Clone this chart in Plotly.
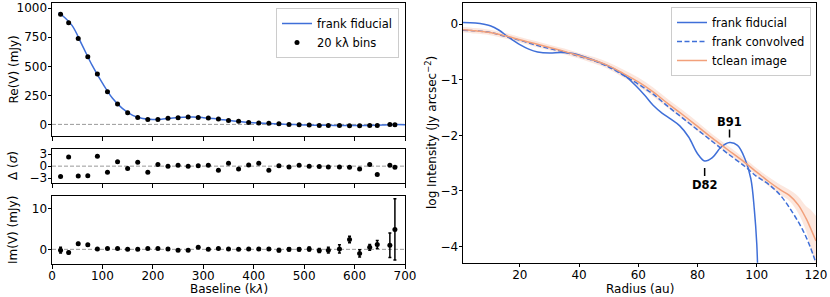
import plotly.graph_objects as go

# ---------------- data: left panels ----------------
baseline = [17, 33, 52, 71, 90, 110, 130, 150, 170, 190, 210, 230, 250, 270, 290, 310, 330, 350,
            370, 390, 410, 430, 450, 470, 490, 510, 530, 548, 570, 590, 610, 630, 645, 670, 680]
re_v = [948, 874, 739, 582, 433, 281, 175, 100, 60, 43, 43, 52, 57, 63, 60, 54, 46, 34,
        26, 17, 11, 9, 6, 0, -3, -6, -9, -9, -9, -11, -11, -9, -9, 0, -3]
re_err = [4] * 35
resid = [-2.6, 2.3, -2.5, -2.4, 2.5, -1.5, 1.1, -0.6, 1.0, -1.5, 0.4, 0.0, 0.2, 0.0, 0.1, 0.2, -1.0, 0.7,
         -0.7, 0.3, 0.7, -1.0, 0.1, -0.2, 0.2, 0.0, -0.1, -0.2, -0.2, -0.3, -0.7, 0.4, -2.1, 0.2, -0.3]
im_v = [-0.2, -0.8, 1.4, 1.1, 0.1, 0.2, 0.2, 0.0, 0.0, 0.2, 0.2, 0.1, -0.2, -0.2, 0.5, 0.0, 0.2, 0.1,
        0.0, 0.1, 0.1, 0.1, -0.2, 0.0, 0.0, 0.1, -0.3, -0.2, 0.1, 2.4, -1.0, 0.5, 1.2, 1.0, 4.9]
im_err = [0.7, 0.3, 0.3, 0.3, 0.2, 0.2, 0.2, 0.2, 0.2, 0.2, 0.2, 0.2, 0.2, 0.2, 0.2, 0.2, 0.2, 0.2,
          0.2, 0.2, 0.3, 0.3, 0.4, 0.4, 0.4, 0.5, 0.5, 0.7, 1.0, 0.8, 0.9, 0.7, 1.0, 3.0, 7.5]

fid_uv_x = [13, 20, 40, 60, 80, 100, 120, 140, 160, 180, 200, 220, 240, 260, 280, 300, 320, 340,
            360, 380, 400, 420, 440, 460, 480, 500, 520, 540, 560, 580, 600, 620, 640, 660, 680, 700]
fid_uv_y = [962, 940, 850, 680, 505, 355, 225, 135, 78, 50, 42, 46, 55, 61, 63, 58, 50, 40,
            30, 21, 14, 9, 6, 2, -2, -5, -7, -8, -9, -10, -10, -9, -8, -5, -2, -3]

# ---------------- data: right panel ----------------
fid_r = [0.8, 5, 10, 13, 16, 18, 20, 23, 26, 30, 34, 38, 42, 47, 52, 56, 59, 62, 65, 68, 71, 74,
         77, 80, 82.4, 85, 88, 90.8, 93.5, 96, 98, 99.2, 100, 100.3]
fid_I = [0.03, 0.02, -0.03, -0.11, -0.23, -0.30, -0.37, -0.45, -0.50, -0.52, -0.51, -0.53, -0.59,
         -0.69, -0.81, -0.95, -1.10, -1.27, -1.46, -1.60, -1.71, -1.83, -2.03, -2.33, -2.46, -2.40,
         -2.21, -2.13, -2.18, -2.42, -2.78, -3.35, -3.95, -4.4]
conv_r = [0.8, 5, 10, 15, 20, 25, 30, 35, 40, 45, 50, 55, 60, 65, 70, 75, 80, 85, 90, 96, 100,
          104, 108, 112, 115.5, 118, 120]
conv_I = [-0.11, -0.12, -0.15, -0.22, -0.29, -0.37, -0.44, -0.50, -0.58, -0.66, -0.77, -0.92,
          -1.08, -1.26, -1.48, -1.69, -1.90, -2.11, -2.32, -2.56, -2.74, -2.88, -3.08, -3.38,
          -3.70, -4.00, -4.30]
tc_r = [0.8, 5, 10, 15, 20, 25, 30, 35, 40, 45, 50, 55, 60, 65, 70, 75, 80, 85, 90, 96, 100,
        104, 108, 111, 114, 116.6, 118, 120]
tc_I = [-0.10, -0.12, -0.15, -0.21, -0.28, -0.35, -0.42, -0.49, -0.57, -0.65, -0.75, -0.89,
        -1.04, -1.22, -1.43, -1.63, -1.84, -2.05, -2.25, -2.49, -2.66, -2.83, -2.98, -3.08,
        -3.25, -3.49, -3.65, -3.90]
tc_err = [0.05, 0.05, 0.05, 0.05, 0.05, 0.05, 0.05, 0.05, 0.05, 0.06, 0.06, 0.07, 0.08, 0.08,
          0.08, 0.08, 0.08, 0.07, 0.07, 0.07, 0.07, 0.08, 0.09, 0.10, 0.15, 0.22, 0.32, 0.45]

feat_name = ["D82", "B91"]
feat_r = [82.4, 90.8]
feat_I = [-2.46, -2.13]

# ---------------- styling ----------------
BLUE = "#3f6fd8"
ORANGE = "#f2a07b"
BAND = "rgba(244,160,122,0.25)"
FONT = "DejaVu Sans"
W, H = 830, 297

def px_x(p):
    return p / W

def px_y(p):
    return 1 - p / H

fig = go.Figure()

# left top
fig.add_trace(go.Scatter(x=fid_uv_x, y=fid_uv_y, mode="lines", line=dict(color=BLUE, width=1.5, shape="spline"),
                         name="frank fiducial", xaxis="x", yaxis="y", legend="legend"))
fig.add_trace(go.Scatter(x=baseline, y=re_v, mode="markers", marker=dict(color="black", size=5),
                         error_y=dict(type="data", array=re_err, color="black", thickness=1.5, width=1.5),
                         name="20 k\u03bb bins", xaxis="x", yaxis="y", legend="legend"))
# residuals
fig.add_trace(go.Scatter(x=baseline, y=resid, mode="markers", marker=dict(color="black", size=5),
                         showlegend=False, xaxis="x2", yaxis="y2"))
# imaginary
fig.add_trace(go.Scatter(x=baseline, y=im_v, mode="markers", marker=dict(color="black", size=5),
                         error_y=dict(type="data", array=im_err, color="black", thickness=1.5, width=1.5),
                         showlegend=False, xaxis="x3", yaxis="y3"))

# right panel band
tc_hi = [v + e for v, e in zip(tc_I, tc_err)]
tc_lo = [v - e for v, e in zip(tc_I, tc_err)]
fig.add_trace(go.Scatter(x=tc_r, y=tc_hi, mode="lines", line=dict(width=0, shape="spline"), showlegend=False,
                         hoverinfo="skip", xaxis="x4", yaxis="y4"))
fig.add_trace(go.Scatter(x=tc_r, y=tc_lo, mode="lines", line=dict(width=0, shape="spline"), fill="tonexty",
                         fillcolor=BAND, showlegend=False, hoverinfo="skip", xaxis="x4", yaxis="y4"))
fig.add_trace(go.Scatter(x=fid_r, y=fid_I, mode="lines", line=dict(color=BLUE, width=1.5, shape="spline"),
                         name="frank fiducial", xaxis="x4", yaxis="y4", legend="legend2"))
fig.add_trace(go.Scatter(x=conv_r, y=conv_I, mode="lines",
                         line=dict(color=BLUE, width=1.5, dash="5px,2.5px", shape="spline"),
                         name="frank convolved", xaxis="x4", yaxis="y4", legend="legend2"))
fig.add_trace(go.Scatter(x=tc_r, y=tc_I, mode="lines", line=dict(color=ORANGE, width=1.5, shape="spline"),
                         name="tclean image", xaxis="x4", yaxis="y4", legend="legend2"))

axis_common = dict(showline=True, mirror=True, linecolor="black", linewidth=1, ticks="outside",
                   ticklen=3.5, tickwidth=1, tickcolor="black", showgrid=False, zeroline=False,
                   automargin=False, tickfont=dict(family=FONT, size=12, color="black"))

left_dom = [px_x(52), px_x(405)]
fig.update_layout(
    width=W, height=H, margin=dict(l=0, r=0, t=0, b=0, pad=0, autoexpand=False),
    paper_bgcolor="white", plot_bgcolor="white",
    font=dict(family=FONT, size=12, color="black"),
    xaxis=dict(domain=left_dom, range=[0, 700], anchor="y", showticklabels=False,
               tickvals=[0, 100, 200, 300, 400, 500, 600, 700], **axis_common),
    yaxis=dict(domain=[px_y(136), px_y(3)], range=[-100, 1045], anchor="x",
               tickvals=[0, 250, 500, 750, 1000], ticklabelstandoff=-2, **axis_common),
    xaxis2=dict(domain=left_dom, range=[0, 700], anchor="y2", showticklabels=False,
                tickvals=[0, 100, 200, 300, 400, 500, 600, 700], **axis_common),
    yaxis2=dict(domain=[px_y(183.3), px_y(149)], range=[-4.3, 4.3], anchor="x2",
                tickvals=[-3, 0, 3], ticklabelstandoff=-2, **axis_common),
    xaxis3=dict(domain=left_dom, range=[0, 700], anchor="y3", ticklabelstandoff=-3,
                tickvals=[0, 100, 200, 300, 400, 500, 600, 700], **axis_common),
    yaxis3=dict(domain=[px_y(264), px_y(196)], range=[-3.6, 13.1], anchor="x3",
                tickvals=[0, 10], ticklabelstandoff=-2, **axis_common),
    xaxis4=dict(domain=[px_x(463), px_x(816)], range=[0.8, 120], anchor="y4", ticklabelstandoff=-3,
                tickvals=[20, 40, 60, 80, 100, 120], **axis_common),
    yaxis4=dict(domain=[px_y(262.7), px_y(3)], range=[-4.29, 0.38], anchor="x4",
                tickvals=[-4, -3, -2, -1, 0], ticklabelstandoff=-2, **axis_common),
    legend=dict(x=px_x(399), y=px_y(8), xanchor="right", yanchor="top", bgcolor="white",
                bordercolor="#cccccc", borderwidth=1, font=dict(family=FONT, size=11.5),
                tracegroupgap=0, itemwidth=30, traceorder="normal"),
    legend2=dict(x=px_x(811), y=px_y(7), xanchor="right", yanchor="top", bgcolor="white",
                 bordercolor="#cccccc", borderwidth=1, font=dict(family=FONT, size=11.5),
                 tracegroupgap=0, itemwidth=30, traceorder="normal"),
)

# zero reference lines
for xr, yr in [("x", "y"), ("x2", "y2"), ("x3", "y3")]:
    fig.add_shape(type="line", xref=xr + " domain", yref=yr, x0=0, x1=1, y0=0, y1=0,
                  line=dict(color="#999999", width=1, dash="4px,2px"), layer="below")

# feature markers
offsets = {"D82": (-24, -15, -7), "B91": (21, 5, 13)}
for name, r, v in zip(feat_name, feat_r, feat_I):
    ts, a, b = offsets[name]
    fig.add_annotation(x=r, y=v, xref="x4", yref="y4", text="<b>%s</b>" % name, showarrow=False,
                       xanchor="center", yanchor="middle",
                       yshift=ts, font=dict(family=FONT, size=11.5, color="black"))
    fig.add_shape(type="line", xref="x4", yref="y4", x0=r, x1=r, ysizemode="pixel", yanchor=v,
                  y0=a, y1=b, line=dict(color="black", width=1.5))

# axis titles
def title(text, x, y, angle=0):
    fig.add_annotation(x=px_x(x), y=px_y(y), xref="paper", yref="paper", text=text, showarrow=False,
                       xanchor="center", yanchor="middle", textangle=angle,
                       font=dict(family=FONT, size=12, color="black"))

title("Re(V) (mJy)", 13, 69.5, -90)
title("\u0394 (<i>\u03c3</i>)", 13, 166, -90)
title("Im(V) (mJy)", 13, 230, -90)
title("log Intensity (Jy arcsec<sup>\u22122</sup>)", 431, 133, -90)
title("Baseline (k<i>\u03bb</i>)", 228.5, 289)
title("Radius (au)", 639.5, 288.5)

fig.write_html("out.html", config={"displayModeBar": False},
               post_script="document.body.style.margin='0';document.body.style.padding='0';")
